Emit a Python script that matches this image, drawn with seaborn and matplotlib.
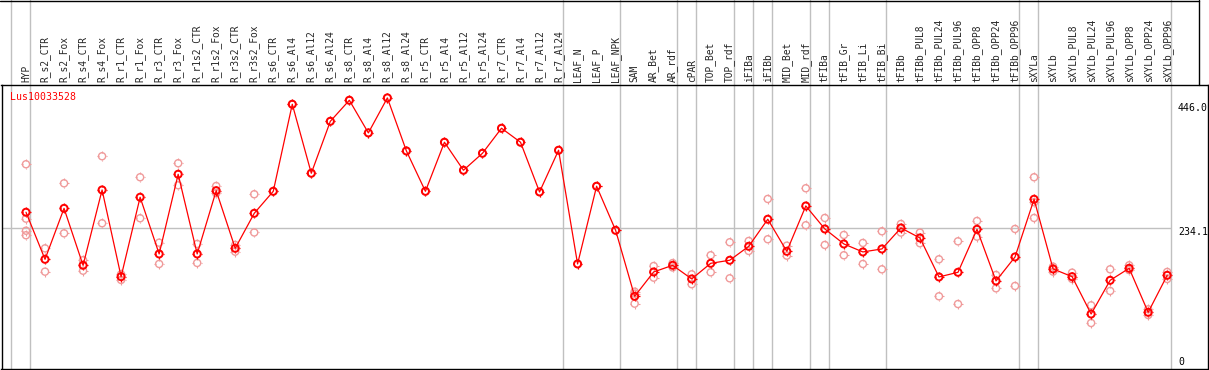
import numpy as np
import pandas as pd
import matplotlib
matplotlib.use("Agg")
import matplotlib.pyplot as plt
from matplotlib.path import Path
import seaborn as sns

categories = ["HYP", "R_s2_CTR", "R_s2_Fox", "R_s4_CTR", "R_s4_Fox", "R_r1_CTR", "R_r1_Fox",
              "R_r3_CTR", "R_r3_Fox", "R_r1s2_CTR", "R_r1s2_Fox", "R_r3s2_CTR", "R_r3s2_Fox",
              "R_s6_CTR", "R_s6_Al4", "R_s6_Al12", "R_s6_Al24", "R_s8_CTR", "R_s8_Al4",
              "R_s8_Al12", "R_s8_Al24", "R_r5_CTR", "R_r5_Al4", "R_r5_Al12", "R_r5_Al24",
              "R_r7_CTR", "R_r7_Al4", "R_r7_Al12", "R_r7_Al24", "LEAF_N", "LEAF_P", "LEAF_NPK",
              "SAM", "AR_Bet", "AR_rdf", "cPAR", "TOP_Bet", "TOP_rdf", "iFIBa", "iFIBb",
              "MID_Bet", "MID_rdf", "tFIBa", "tFIB_Gr", "tFIB_Li", "tFIB_Bi", "tFIBb",
              "tFIBb_PUL8", "tFIBb_PUL24", "tFIBb_PUL96", "tFIBb_OPP8", "tFIBb_OPP24",
              "tFIBb_OPP96", "sXYLa", "sXYLb", "sXYLb_PUL8", "sXYLb_PUL24", "sXYLb_PUL96",
              "sXYLb_OPP8", "sXYLb_OPP24", "sXYLb_OPP96"]

means = [261.4, 181.4, 268.0, 171.2, 299.3, 151.9, 286.9, 190.5, 326.0, 190.5, 298.1, 200.1,
         259.6, 297.0, 445.0, 327.7, 416.0, 451.8, 396.3, 455.8, 365.6, 297.0, 380.4, 332.8,
         361.7, 404.2, 380.4, 295.9, 366.8, 173.5, 305.6, 230.7, 118.5, 159.9, 171.2, 148.0,
         174.6, 179.8, 203.5, 249.5, 195.0, 272.1, 233.0, 207.5, 193.9, 199.0, 234.7, 217.7,
         151.4, 159.3, 232.4, 144.6, 185.4, 283.5, 165.0, 151.9, 88.4, 145.7, 166.1, 91.3,
         154.2]

replicates = [[343.0, 250.5, 230.0, 222.3], [200.0, 160.4], [310.6, 225.6], [180.0, 162.0],
              [356.6, 242.7], [155.9, 146.3], [320.9, 251.2], [209.7, 173.5], [344.7, 307.3],
              [207.5, 175.2], [306.0, 293.7], [205.8, 194.4], [292.0, 227.0],
              [297.0], [445.0], [327.7], [416.0], [451.8], [396.3], [455.8], [365.6], [297.0],
              [380.4], [332.8], [361.7], [404.2], [380.4], [295.9], [366.8], [173.5], [305.6],
              [230.7], [126.4, 123.0, 106.0], [170.0, 150.2], [175.0, 167.5], [155.9, 139.0],
              [188.3, 159.3], [210.4, 149.1], [212.6, 195.6], [284.0, 215.5], [204.6, 187.6],
              [302.2, 239.3], [251.7, 205.8], [222.8, 188.3], [209.2, 173.5], [229.0, 164.4],
              [241.5, 226.8], [226.8, 208.7], [181.4, 118.5], [212.0, 105.4], [246.6, 219.9],
              [154.8, 132.1], [233.0, 136.1], [320.9, 278.4, 251.7], [168.9, 160.4],
              [158.7, 148.0], [103.2, 73.1], [164.4, 127.6], [171.2, 163.0], [96.4, 86.7],
              [159.9, 148.0]]

group_ends = [-1, 0, 28, 31, 34, 35, 37, 38, 39, 41, 42, 45, 52, 53, 60]
ref_values = [446.0, 234.1, 0]
ref_labels = ["446.0", "234.1", "0"]
gene = "Lus10033528"

W, H = 1209, 370
sns.set_style("white")
plt.rcParams["font.family"] = ["DejaVu Sans Mono", "DejaVu Sans"]

fig = plt.figure(figsize=(W / 100, H / 100), dpi=100)
ax_l, ax_r, ax_b, ax_t = 1.5, 1208, 369, 85
ax = fig.add_axes([ax_l / W, (H - ax_b) / H, (ax_r - ax_l) / W, (ax_b - ax_t) / H])

x0, dx = 26.0, 19.02
ax.set_xlim((ax_l - x0) / dx, (ax_r - x0) / dx)
y0pix, ppu = 366.0, (366.0 - 228.3) / 234.1
ax.set_ylim(-(ax_b - y0pix) / ppu, (y0pix - ax_t) / ppu)

# tick marks around the circle markers
r = 0.7
segs = [((0, r), (0, 1)), ((0, -r), (0, -1)), ((r, 0), (1, 0)), ((-r, 0), (-1, 0))]
verts, codes = [], []
for a, b in segs:
    verts += [a, b]
    codes += [Path.MOVETO, Path.LINETO]
ticks = Path(verts, codes)

idx = np.arange(len(categories))
rep_df = pd.DataFrame([(i, v) for i, vals in enumerate(replicates) for v in vals],
                      columns=["pos", "value"])
mean_df = pd.DataFrame({"pos": idx, "value": means})

# gridlines (extend through the label band)
ext = (ax_b - 0) / (ax_b - ax_t)
for g in group_ends:
    ax.axvline(g + 0.22, ymin=0, ymax=ext, color="#c0c0c0", lw=1.0, clip_on=False, zorder=0)
ax.hlines(234.1, ax.get_xlim()[0], 60.22, color="#c0c0c0", lw=1.0, zorder=0)

rep_col, main_col = "#f09a9a", "#ff0000"
sns.scatterplot(data=rep_df, x="pos", y="value", marker="o", s=26, facecolors="none",
                edgecolors=rep_col, linewidths=1.0, ax=ax, zorder=2, legend=False)
sns.scatterplot(data=rep_df, x="pos", y="value", marker=ticks, s=50, facecolors="none",
                edgecolors=rep_col, linewidths=0.8, ax=ax, zorder=2, legend=False)
sns.lineplot(data=mean_df, x="pos", y="value", color=main_col, lw=0.9, ax=ax, zorder=3,
             estimator=None)
sns.scatterplot(data=mean_df, x="pos", y="value", marker="o", s=26, facecolors="none",
                edgecolors=main_col, linewidths=1.4, ax=ax, zorder=4, legend=False)
sns.scatterplot(data=mean_df, x="pos", y="value", marker=ticks, s=50, facecolors="none",
                edgecolors=main_col, linewidths=0.9, ax=ax, zorder=4, legend=False)

ax.set_xlabel("")
ax.set_ylabel("")
ax.set_yticks([])
ax.xaxis.tick_top()
ax.set_xticks(idx)
ax.set_xticklabels(categories, rotation=90, fontsize=6.9)
ax.tick_params(axis="x", length=0, pad=2, top=True, bottom=False, labeltop=True,
               labelbottom=False)
for s in ax.spines.values():
    s.set_color("black")
    s.set_linewidth(1.0)

ax.text((10 - x0) / dx, (y0pix - 97.5) / ppu, gene, color=main_col, fontsize=7.1,
        ha="left", va="center")
lab_pix = [107.7, 231.7, 361.7]
for v, lab, yp in zip(ref_values, ref_labels, lab_pix):
    ax.text((1178 - x0) / dx, (y0pix - yp) / ppu, lab, color="black", fontsize=7.1,
            ha="left", va="center", clip_on=False)

# label band frame
fig.add_artist(plt.Line2D([0, 1199 / W], [1 - 0.5 / H, 1 - 0.5 / H], color="black", lw=1.0))
fig.add_artist(plt.Line2D([1199 / W, 1199 / W], [1, (H - 85) / H], color="black", lw=1.0))

fig.savefig("out.png", dpi=100)
